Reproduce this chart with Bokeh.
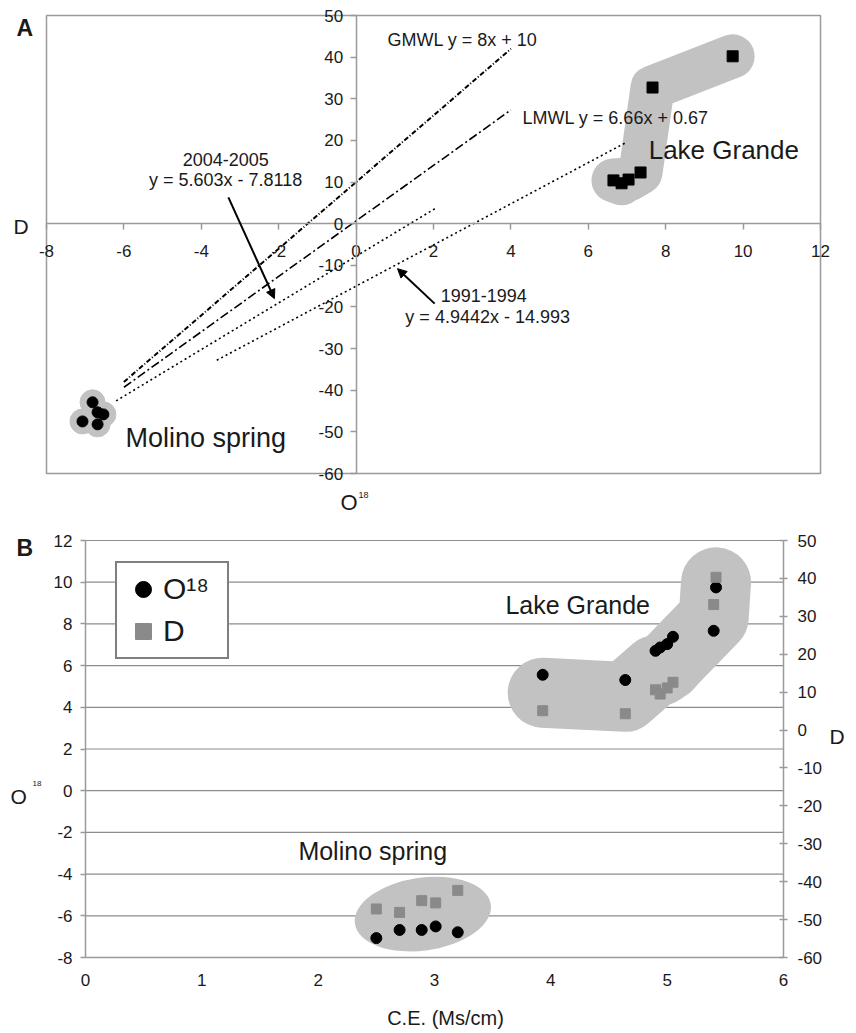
from bokeh.plotting import figure
from bokeh.models import (Range1d, LinearAxis, FixedTicker, Label, Arrow, NormalHead,
                          Legend, LegendItem, PrintfTickFormatter)
from bokeh.layouts import column
from bokeh.embed import file_html
from bokeh.resources import INLINE

FONT = "Liberation Sans"
TXT = "#1a1a1a"
AXC = "#9a9a9a"
BLOB = "#c2c2c2"
W = 856

# ---------------- Panel A data ----------------
a_x_ticks = [-8, -6, -4, -2, 0, 2, 4, 6, 8, 10, 12]
a_y_ticks = [-60, -50, -40, -30, -20, -10, 0, 10, 20, 30, 40, 50]

a_lake_o18 = [6.86, 6.65, 7.04, 7.35, 7.66, 9.73]
a_lake_d = [9.7, 10.4, 10.6, 12.3, 32.7, 40.2]
a_molino_o18 = [-6.81, -6.68, -6.53, -7.07, -6.68]
a_molino_d = [-42.9, -45.3, -45.8, -47.5, -48.2]

line_names = ["GMWL", "LMWL", "2004-2005", "1991-1994"]
line_slopes = [8.0, 6.66, 5.603, 4.9442]
line_intercepts = [10.0, 0.67, -7.8118, -14.993]
line_x_start = [-6.0, -6.0, -6.2, -3.6]
line_x_end = [4.0, 4.0, 2.05, 6.95]

# ---------------- Panel B data ----------------
b_x_ticks = [0, 1, 2, 3, 4, 5, 6]
b_left_ticks = [-8, -6, -4, -2, 0, 2, 4, 6, 8, 10, 12]
b_right_ticks = [-60, -50, -40, -30, -20, -10, 0, 10, 20, 30, 40, 50]

ce_lake = [3.93, 4.64, 4.90, 4.94, 5.00, 5.05, 5.40, 5.42]
o18_lake = [5.56, 5.31, 6.71, 6.87, 7.03, 7.38, 7.67, 9.75]
d_lake = [5.1, 4.3, 10.6, 9.5, 11.1, 12.6, 33.1, 40.3]

ce_molino = [2.50, 2.70, 2.89, 3.01, 3.20]
o18_molino = [-7.07, -6.68, -6.68, -6.51, -6.79]
d_molino = [-47.2, -48.1, -45.0, -45.6, -42.3]


def style_axis(ax, size="17px"):
    ax.axis_line_color = AXC
    ax.axis_line_width = 1.5
    ax.major_tick_line_color = AXC
    ax.major_tick_line_width = 1.5
    ax.minor_tick_line_color = None
    ax.major_label_text_font = FONT
    ax.major_label_text_font_size = size
    ax.major_label_text_color = TXT
    ax.formatter = PrintfTickFormatter(format="%d")


def lab(p, text, x, y, size, units="data", align="left", baseline="middle", style="normal"):
    p.add_layout(Label(text=text, x=x, y=y, x_units=units, y_units=units,
                       text_font=FONT, text_font_size=size, text_color=TXT,
                       text_align=align, text_baseline=baseline, text_font_style=style,
                       level="overlay"))


def padded_range(lo, hi, px_lo, px_hi, total):
    # plot box [lo, hi] occupies pixels [px_lo, px_hi] of a frame of `total` pixels
    k = (hi - lo) / (px_hi - px_lo)
    return Range1d(lo - px_lo * k, hi + (total - px_hi) * k)


# ================= Panel A =================
HA = 520
ax_lo, ax_hi = min(a_x_ticks), max(a_x_ticks)
ay_lo, ay_hi = min(a_y_ticks), max(a_y_ticks)
pA = figure(width=W, height=HA,
            x_range=padded_range(ax_lo, ax_hi, 46, 820, W),
            y_range=padded_range(ay_lo, ay_hi, HA - 473, HA - 15, HA),
            output_backend="svg", toolbar_location=None,
            min_border=0, outline_line_color=None)
pA.xgrid.visible = False
pA.ygrid.visible = False
pA.quad(left=ax_lo, right=ax_hi, bottom=ay_lo, top=ay_hi, fill_color=None,
        line_color=AXC, line_width=1.5)
pA.xaxis.fixed_location = 0
pA.yaxis.fixed_location = 0
pA.xaxis.bounds = (ax_lo, ax_hi)
pA.yaxis.bounds = (ay_lo, ay_hi)
pA.xaxis.ticker = FixedTicker(ticks=a_x_ticks)
pA.yaxis.ticker = FixedTicker(ticks=a_y_ticks)
for ax in pA.xaxis + pA.yaxis:
    style_axis(ax)
    ax.major_tick_in = 0
    ax.major_tick_out = 6
pA.xaxis.major_label_standoff = 15
pA.yaxis.major_label_standoff = 7

# blobs
pA.line(a_lake_o18, a_lake_d, line_width=44, line_color=BLOB, line_cap="round", line_join="round")
pA.scatter(a_molino_o18, a_molino_d, size=25, color=BLOB)

# meteoric water lines and regressions
dashes = ["5 2 1 2", "9 3 2 3", "2 3", "2 3"]
widths = [2.0, 1.6, 1.6, 1.6]
for m, b, xs, xe, dsh, w in zip(line_slopes, line_intercepts, line_x_start, line_x_end, dashes, widths):
    pA.line([xs, xe], [m * xs + b, m * xe + b], line_color="black", line_width=w, line_dash=dsh)

pA.scatter(a_lake_o18, a_lake_d, marker="square", size=11, color="black")
pA.scatter(a_molino_o18, a_molino_d, marker="circle", size=11, color="black")

lab(pA, "GMWL y = 8x + 10", 0.81, 44.2, "18px")
lab(pA, "LMWL y = 6.66x + 0.67", 4.30, 25.3, "18px")
lab(pA, "2004-2005", -3.37, 15.4, "18px", align="center")
lab(pA, "y = 5.603x - 7.8118", -3.37, 10.4, "18px", align="center")
lab(pA, "1991-1994", 3.30, -17.3, "18px", align="center")
lab(pA, "y = 4.9442x - 14.993", 3.40, -22.5, "18px", align="center")
lab(pA, "Lake Grande", 7.56, 17.6, "26px")
lab(pA, "Molino spring", -5.96, -51.4, "27px")

pA.add_layout(Arrow(end=NormalHead(size=9, fill_color="black", line_color="black"),
                    x_start=-3.30, y_start=6.3, x_end=-2.11, y_end=-18.0,
                    line_width=2, line_color="black"))
pA.add_layout(Arrow(end=NormalHead(size=9, fill_color="black", line_color="black"),
                    x_start=2.03, y_start=-19.2, x_end=1.07, y_end=-10.8,
                    line_width=2, line_color="black"))

# axis titles and panel letter (screen units: from frame bottom-left, y up)
lab(pA, "D", 13, HA - 225.5, "21px", units="screen")
lab(pA, "O", 340, HA - 501.5, "22px", units="screen")
lab(pA, "18", 358, HA - 494.5, "9px", units="screen")
lab(pA, "A", 16, HA - 27.5, "23px", units="screen", style="bold")

# ================= Panel B =================
HB = 510
bx_lo, bx_hi = min(b_x_ticks), max(b_x_ticks)
by_lo, by_hi = min(b_left_ticks), max(b_left_ticks)
br_lo, br_hi = min(b_right_ticks), max(b_right_ticks)
pB = figure(width=W, height=HB,
            x_range=padded_range(bx_lo, bx_hi, 85, 783, W),
            y_range=padded_range(by_lo, by_hi, HB - 437, HB - 20, HB),
            output_backend="svg", toolbar_location=None,
            min_border=0, outline_line_color=None)
pB.extra_y_ranges = {"d": padded_range(br_lo, br_hi, HB - 437, HB - 20, HB)}
pB.xgrid.visible = False
pB.ygrid.visible = False
pB.segment(x0=[bx_lo] * len(b_left_ticks), y0=b_left_ticks,
           x1=[bx_hi] * len(b_left_ticks), y1=b_left_ticks,
           line_color="#8c8c8c", line_width=1.2)

pB.xaxis.fixed_location = by_lo
pB.yaxis.fixed_location = bx_lo
pB.xaxis.bounds = (bx_lo, bx_hi)
pB.yaxis.bounds = (by_lo, by_hi)
pB.xaxis.ticker = FixedTicker(ticks=b_x_ticks)
pB.yaxis.ticker = FixedTicker(ticks=b_left_ticks)
style_axis(pB.xaxis[0])
style_axis(pB.yaxis[0])
pB.xaxis.major_tick_out = 0
pB.xaxis.major_tick_in = 0
pB.xaxis.major_label_standoff = 16
pB.yaxis.major_tick_out = 5
pB.yaxis.major_tick_in = 0
pB.yaxis.major_label_standoff = 8

rax = LinearAxis(y_range_name="d", ticker=FixedTicker(ticks=b_right_ticks),
                 fixed_location=bx_hi, bounds=(br_lo, br_hi))
style_axis(rax)
rax.major_tick_in = 4
rax.major_tick_out = 4
rax.major_label_standoff = 10
pB.add_layout(rax, "right")


def d_to_left(d):
    return (d - br_lo) / (br_hi - br_lo) * (by_hi - by_lo) + by_lo


# blobs
lake_mid = [(o + d_to_left(d)) / 2 for o, d in zip(o18_lake, d_lake)]
pB.line(ce_lake, lake_mid, line_width=70, line_color=BLOB, line_cap="round", line_join="round")
mol_all_y = o18_molino + [d_to_left(d) for d in d_molino]
mcx = (min(ce_molino) + max(ce_molino)) / 2 + 0.05
mcy = sum(mol_all_y) / len(mol_all_y) + 0.15
pB.ellipse(x=[mcx], y=[mcy], width=[max(ce_molino) - min(ce_molino) + 0.48], height=[3.5],
           angle=0.14, fill_color=BLOB, line_color=None)

circ = pB.scatter(ce_lake, o18_lake, marker="circle", size=11, color="black")
sq = pB.scatter(ce_lake, d_lake, marker="square", size=10, color="#8a8a8a", y_range_name="d")
pB.scatter(ce_molino, o18_molino, marker="circle", size=11, color="black")
pB.scatter(ce_molino, d_molino, marker="square", size=10, color="#8a8a8a", y_range_name="d")

legend = Legend(items=[LegendItem(label="O\u00b9\u2078", renderers=[circ]),
                       LegendItem(label="D", renderers=[sq])],
                location=(115, HB - (659 - 520)), glyph_width=40, glyph_height=40, padding=6, spacing=2,
                label_standoff=0, label_width=58, margin=0,
                border_line_color="black", border_line_width=2.5,
                label_text_font=FONT, label_text_font_size="30px", label_text_color=TXT,
                background_fill_color="white", background_fill_alpha=1)
pB.add_layout(legend)

lab(pB, "Lake Grande", 3.61, 8.93, "25px")
lab(pB, "Molino spring", 1.83, -2.9, "25px")

lab(pB, "B", 16, HB - (547 - 520), "23px", units="screen", style="bold")
lab(pB, "O", 10, HB - (795.5 - 520), "21px", units="screen")
lab(pB, "18", 32, HB - (782.5 - 520), "8px", units="screen")
lab(pB, "D", 829, HB - (735.5 - 520), "21px", units="screen")
lab(pB, "C.E. (Ms/cm)", 445, HB - (1017 - 520), "20px", units="screen", align="center")

layout = column(pA, pB)
open("out.html", "w").write(file_html(layout, INLINE))
